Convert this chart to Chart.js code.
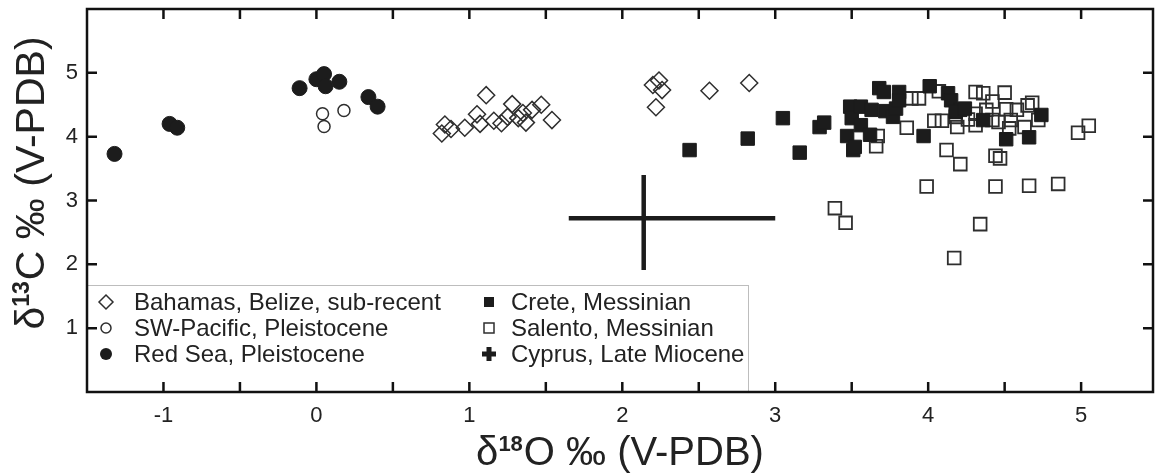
<!DOCTYPE html>
<html>
<head>
<meta charset="utf-8">
<script src="https://cdn.jsdelivr.net/npm/chart.js@4.4.1/dist/chart.umd.min.js"></script>
<style>
  html, body { margin: 0; padding: 0; background: #fff; }
</style>
</head>
<body>
<canvas id="isoChart" width="1155" height="474"></canvas>
<script>
// tick labels
const xTicks = [-1, 0, 1, 2, 3, 4, 5];
const xMinorTicks = [-0.5, 0.5, 1.5, 2.5, 3.5, 4.5];
const yTicks = [1, 2, 3, 4, 5];

// δ18O (x) / δ13C (y) per locality
const bahamasX = [0.82, 0.84, 0.88, 0.97, 1.05, 1.07, 1.11, 1.16, 1.21, 1.25, 1.28, 1.32, 1.35, 1.37, 1.41, 1.47, 1.54, 2.20, 2.24, 2.26, 2.22, 2.57, 2.83];
const bahamasY = [4.05, 4.19, 4.12, 4.14, 4.35, 4.20, 4.65, 4.25, 4.21, 4.31, 4.51, 4.29, 4.37, 4.22, 4.42, 4.50, 4.26, 4.81, 4.88, 4.73, 4.46, 4.72, 4.84];

const pacificX = [0.04, 0.05, 0.18];
const pacificY = [4.36, 4.16, 4.41];

const redSeaX = [-1.32, -0.96, -0.91, -0.11, 0.00, 0.05, 0.06, 0.15, 0.34, 0.40];
const redSeaY = [3.73, 4.20, 4.14, 4.76, 4.90, 4.98, 4.79, 4.86, 4.62, 4.47];

const creteX = [2.44, 2.82, 3.05, 3.16, 3.29, 3.32, 3.47, 3.51, 3.49, 3.50, 3.56, 3.56, 3.63, 3.68, 3.71, 3.72, 3.77, 3.79, 3.81, 3.81, 3.62, 3.97, 4.01, 4.13, 4.15, 4.21, 4.18, 4.24, 4.36, 4.51, 4.66, 4.74, 3.52];
const creteY = [3.79, 3.97, 4.29, 3.75, 4.15, 4.22, 4.01, 3.79, 4.47, 4.29, 4.47, 4.18, 4.42, 4.76, 4.70, 4.40, 4.31, 4.44, 4.70, 4.57, 4.03, 4.01, 4.79, 4.68, 4.57, 4.42, 4.39, 4.44, 4.26, 3.96, 3.99, 4.34, 3.84];

const salentoX = [3.67, 3.66, 3.86, 3.89, 3.94, 4.07, 4.04, 4.09, 4.18, 4.19, 4.26, 4.31, 4.31, 4.31, 4.36, 4.38, 4.42, 4.42, 4.46, 4.50, 4.51, 4.53, 4.58, 4.63, 4.68, 4.65, 4.72, 4.54, 4.98, 5.05, 4.12, 4.21, 4.44, 4.47, 3.99, 4.44, 4.66, 4.85, 3.39, 3.46, 4.34, 4.17];
const salentoY = [4.01, 3.85, 4.14, 4.60, 4.60, 4.71, 4.25, 4.25, 4.31, 4.15, 4.27, 4.36, 4.18, 4.70, 4.68, 4.42, 4.55, 4.26, 4.23, 4.69, 4.43, 4.13, 4.42, 4.15, 4.53, 4.49, 4.26, 4.26, 4.06, 4.17, 3.79, 3.57, 3.70, 3.66, 3.22, 3.22, 3.23, 3.26, 2.88, 2.65, 2.63, 2.10];

// Cyprus, Late Miocene: mean with ranges
const cyprusMean = [2.14, 2.72];
const cyprusXRange = [1.65, 3.00];
const cyprusYRange = [1.91, 3.40];

const pts = (xs, ys) => xs.map((x, i) => ({ x: x, y: ys[i] }));
const ink = "#1c1c1c";
const line = "#2e2e2e";
const font = '"Liberation Sans", Arial, Helvetica, sans-serif';

const legendRows = [
    { label: "Bahamas, Belize, sub-recent", mark: "diamond", col: 0, row: 0 },
    { label: "SW-Pacific, Pleistocene", mark: "ring", col: 0, row: 1 },
    { label: "Red Sea, Pleistocene", mark: "dot", col: 0, row: 2 },
    { label: "Crete, Messinian", mark: "block", col: 1, row: 0 },
    { label: "Salento, Messinian", mark: "box", col: 1, row: 1 },
    { label: "Cyprus, Late Miocene", mark: "plus", col: 1, row: 2 }
];

function drawMark(ctx, mark, x, y) {
    ctx.save();
    ctx.strokeStyle = line;
    ctx.fillStyle = ink;
    ctx.lineWidth = 1.5;
    ctx.beginPath();
    if (mark === "diamond") {
        ctx.moveTo(x - 7, y); ctx.lineTo(x, y - 7); ctx.lineTo(x + 7, y); ctx.lineTo(x, y + 7);
        ctx.closePath(); ctx.stroke();
    } else if (mark === "ring") {
        ctx.arc(x, y, 5, 0, Math.PI * 2); ctx.stroke();
    } else if (mark === "dot") {
        ctx.arc(x, y, 6, 0, Math.PI * 2); ctx.fill();
    } else if (mark === "block") {
        ctx.fillRect(x - 5, y - 5, 10, 10);
    } else if (mark === "box") {
        ctx.strokeRect(x - 5, y - 5, 10, 10);
    } else if (mark === "plus") {
        ctx.fillRect(x - 7, y - 2.5, 14, 5);
        ctx.fillRect(x - 2.5, y - 7, 5, 14);
    }
    ctx.restore();
}

// text with a bold superscript, e.g. δ + 18 + O ‰ (V-PDB)
function drawIsoTitle(ctx, pre, sup, post, cx, cy, size) {
    const mainF = size + "px " + font;
    const supF = "bold " + Math.round(size * 0.55) + "px " + font;
    ctx.font = mainF;
    const w1 = ctx.measureText(pre).width;
    const w3 = ctx.measureText(post).width;
    ctx.font = supF;
    const w2 = ctx.measureText(sup).width + 1;
    let x = cx - (w1 + w2 + w3) / 2;
    ctx.textBaseline = "alphabetic";
    ctx.textAlign = "left";
    ctx.font = mainF;
    ctx.fillText(pre, x, cy);
    x += w1;
    ctx.font = supF;
    ctx.fillText(sup, x, cy - size * 0.36);
    x += w2;
    ctx.font = mainF;
    ctx.fillText(post, x, cy);
}

const insetLegend = {
    id: "insetLegend",
    afterDatasetsDraw(chart) {
        const { ctx, chartArea: a } = chart;
        const top = 285, right = 748;
        ctx.save();
        ctx.fillStyle = "#fff";
        ctx.fillRect(a.left, top, right - a.left, a.bottom - top);
        ctx.strokeStyle = "#bdbdbd";
        ctx.lineWidth = 1;
        ctx.strokeRect(a.left + 0.5, top + 0.5, right - a.left, a.bottom - top);
        ctx.font = "24px " + font;
        ctx.textBaseline = "middle";
        ctx.textAlign = "left";
        legendRows.forEach(r => {
            const y = 302 + r.row * 26;
            const mx = r.col === 0 ? 106 : 489;
            drawMark(ctx, r.mark, mx, y);
            ctx.fillStyle = "#222";
            ctx.fillText(r.label, mx + (r.col === 0 ? 28 : 22), y + 1);
        });
        ctx.restore();
    }
};

const frameAndAxes = {
    id: "frameAndAxes",
    afterDraw(chart) {
        const { ctx, chartArea: a, scales } = chart;
        const sx = scales.x, sy = scales.y;
        const tl = 10;
        ctx.save();
        ctx.strokeStyle = "#111";
        ctx.lineWidth = 2.5;
        ctx.strokeRect(a.left, a.top, a.right - a.left, a.bottom - a.top);
        ctx.beginPath();
        xTicks.concat(xMinorTicks).forEach(v => {
            const px = sx.getPixelForValue(v);
            ctx.moveTo(px, a.bottom); ctx.lineTo(px, a.bottom - tl);
            ctx.moveTo(px, a.top); ctx.lineTo(px, a.top + tl);
        });
        yTicks.forEach(v => {
            const py = sy.getPixelForValue(v);
            ctx.moveTo(a.left, py); ctx.lineTo(a.left + tl, py);
            ctx.moveTo(a.right, py); ctx.lineTo(a.right - tl, py);
        });
        ctx.stroke();

        ctx.fillStyle = "#222";
        ctx.font = "22px " + font;
        ctx.textAlign = "center";
        ctx.textBaseline = "middle";
        xTicks.forEach(v => ctx.fillText(String(v), sx.getPixelForValue(v), a.bottom + 24));
        ctx.textAlign = "right";
        yTicks.forEach(v => ctx.fillText(String(v), a.left - 9, sy.getPixelForValue(v)));

        drawIsoTitle(ctx, "\u03B4", "18", "O \u2030 (V-PDB)", 620, 465, 40);
        ctx.translate(44, 183);
        ctx.rotate(-Math.PI / 2);
        drawIsoTitle(ctx, "\u03B4", "13", "C \u2030 (V-PDB)", 0, 0, 41);
        ctx.restore();
    }
};

new Chart(document.getElementById("isoChart"), {
    type: "scatter",
    data: {
        datasets: [
            {
                label: "Bahamas, Belize, sub-recent",
                data: pts(bahamasX, bahamasY),
                pointStyle: "rectRot",
                pointRadius: 8.5,
                borderWidth: 1.5,
                borderColor: line,
                backgroundColor: "rgba(0,0,0,0)"
            },
            {
                label: "SW-Pacific, Pleistocene",
                data: pts(pacificX, pacificY),
                pointStyle: "circle",
                pointRadius: 6,
                borderWidth: 1.5,
                borderColor: line,
                backgroundColor: "rgba(0,0,0,0)"
            },
            {
                label: "Red Sea, Pleistocene",
                data: pts(redSeaX, redSeaY),
                pointStyle: "circle",
                pointRadius: 7.5,
                borderWidth: 1,
                borderColor: ink,
                backgroundColor: ink
            },
            {
                label: "Crete, Messinian",
                data: pts(creteX, creteY),
                pointStyle: "rect",
                pointRadius: 9.5,
                borderWidth: 1,
                borderColor: ink,
                backgroundColor: ink
            },
            {
                label: "Salento, Messinian",
                data: pts(salentoX, salentoY),
                pointStyle: "rect",
                pointRadius: 9,
                borderWidth: 1.8,
                borderColor: line,
                backgroundColor: "rgba(0,0,0,0)"
            },
            {
                label: "Cyprus, Late Miocene",
                data: [{ x: cyprusXRange[0], y: cyprusMean[1] }, { x: cyprusXRange[1], y: cyprusMean[1] }],
                showLine: true,
                borderColor: ink,
                borderWidth: 4.5,
                pointRadius: 0
            },
            {
                label: "Cyprus range",
                data: [{ x: cyprusMean[0], y: cyprusYRange[1] }, { x: cyprusMean[0], y: cyprusYRange[0] }],
                showLine: true,
                borderColor: ink,
                borderWidth: 4.5,
                pointRadius: 0
            }
        ]
    },
    options: {
        responsive: false,
        animation: false,
        devicePixelRatio: 1,
        layout: { autoPadding: false, padding: { top: 9, right: 2, left: 0, bottom: 0 } },
        plugins: {
            legend: { display: false },
            tooltip: { enabled: false }
        },
        scales: {
            x: {
                type: "linear",
                min: -1.5,
                max: 5.47,
                grid: { display: false, drawTicks: false },
                border: { display: false },
                ticks: { display: false },
                afterFit: s => { s.height = 82; }
            },
            y: {
                type: "linear",
                min: 0,
                max: 6,
                grid: { display: false, drawTicks: false },
                border: { display: false },
                ticks: { display: false },
                afterFit: s => { s.width = 87; }
            }
        }
    },
    plugins: [insetLegend, frameAndAxes]
});
</script>
</body>
</html>
